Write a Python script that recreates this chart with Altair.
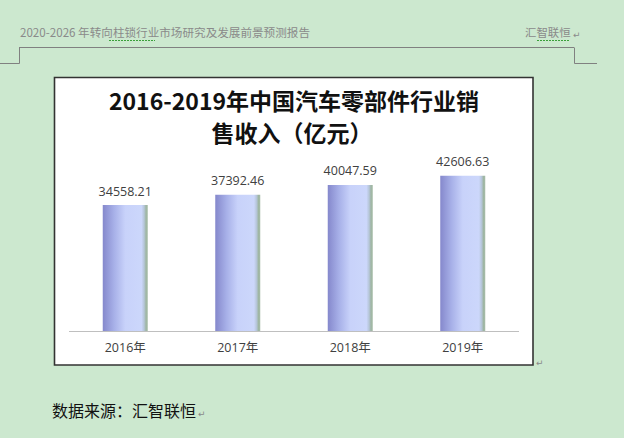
import altair as alt
import pandas as pd

# ---- data ----
years = ["2016年", "2017年", "2018年", "2019年"]
values = [34558.21, 37392.46, 40047.59, 42606.63]
value_labels = ["34558.21", "37392.46", "40047.59", "42606.63"]

title_lines = ["2016-2019年中国汽车零部件行业销", "售收入（亿元）"]
header_left = "2020-2026 年转向柱锁行业市场研究及发展前景预测报告"
header_right = "汇智联恒"
footer_text = "数据来源：汇智联恒"

df = pd.DataFrame({"year": years, "value": values, "label": value_labels})
one = pd.DataFrame({"d": [0]})

BG = "#cce8cf"
CJK = "Noto Sans CJK SC"
LAT = "Open Sans, Noto Sans CJK SC"

xscale = alt.Scale(range=[69, 519], paddingInner=0.6, paddingOuter=0.3)
yscale = alt.Scale(domain=[0, 50000], range=[331, 148.7], nice=False, zero=True)


def rule(x, x2, y, y2, color="#808080", width=1.0, dash=None):
    kw = dict(color=color, strokeWidth=width)
    if dash:
        kw["strokeDash"] = dash
    return alt.Chart(one).mark_rule(**kw).encode(
        x=alt.value(x), x2=alt.value(x2), y=alt.value(y), y2=alt.value(y2)
    )


def text(t, x, y, size, color, font=CJK, weight="normal", align="left"):
    return alt.Chart(one).mark_text(
        text=t, font=font, fontSize=size, color=color, fontWeight=weight,
        align=align, baseline="middle",
    ).encode(x=alt.value(x), y=alt.value(y))


# page decorations (Word header)
header = [
    text(header_left, 20, 34, 11.6, "#8a8a8a"),
    text(header_right, 525, 34, 11.4, "#8a8a8a"),
    text("↵", 573, 35, 9, "#8a8a8a", font="DejaVu Sans"),
    rule(109, 155, 40.5, 40.5, color="#3aa03a", dash=[2, 1]),
    rule(537, 570, 40.5, 40.5, color="#3aa03a", dash=[2, 1]),
    rule(19, 574, 47.5, 47.5),
    rule(19.5, 19.5, 47.5, 63.5),
    rule(574.5, 574.5, 47.5, 63.5),
    rule(0, 19.5, 63.5, 63.5),
    rule(574.5, 597, 63.5, 63.5),
]

box = alt.Chart(one).mark_rect(fill="white", stroke="#333333", strokeWidth=1.6).encode(
    x=alt.value(54.5), x2=alt.value(533), y=alt.value(77.5), y2=alt.value(365)
)

title1 = text(title_lines[0], 294, 103, 23, "#111111", weight="bold", align="center")
title2 = text(title_lines[1], 292, 135, 23, "#111111", weight="bold", align="center")

axis_line = rule(69, 519, 331.5, 331.5, color="#bfbfbf", width=1)

grad = alt.Gradient(
    gradient="linear", x1=0, x2=1, y1=0, y2=0,
    stops=[
        alt.GradientStop(offset=0.0, color="#8588cc"),
        alt.GradientStop(offset=0.25, color="#a7b0e8"),
        alt.GradientStop(offset=0.5, color="#c8d2fa"),
        alt.GradientStop(offset=0.86, color="#ccd7fb"),
        alt.GradientStop(offset=0.92, color="#b5c5d8"),
        alt.GradientStop(offset=0.96, color="#9fb6a4"),
        alt.GradientStop(offset=1.0, color="#a6bca8"),
    ],
)

base = alt.Chart(df)
bars = base.mark_bar(fill=grad).encode(
    x=alt.X("year:N", scale=xscale, axis=None, sort=years),
    y=alt.Y("value:Q", scale=yscale, axis=None),
)
vlabels = base.mark_text(font=LAT, fontSize=12.5, color="#404040", baseline="middle", dy=-13.5).encode(
    x=alt.X("year:N", scale=xscale, axis=None, sort=years),
    y=alt.Y("value:Q", scale=yscale, axis=None),
    text="label:N",
)
xlabels = base.mark_text(font=LAT, fontSize=12.5, color="#404040", baseline="middle").encode(
    x=alt.X("year:N", scale=xscale, axis=None, sort=years),
    y=alt.value(348),
    text="year:N",
)

footer = [
    text("↵", 536, 363, 9, "#8a8a8a", font="DejaVu Sans"),
    text(footer_text, 52, 412, 16, "#111111"),
    text("↵", 198, 414, 9, "#8a8a8a", font="DejaVu Sans"),
]

chart = alt.layer(
    *header, box, title1, title2, axis_line, bars, vlabels, xlabels, *footer
).properties(
    width=624, height=438,
    autosize=alt.AutoSizeParams(type="none"),
    padding={"left": 0, "top": 0, "right": 0, "bottom": 0},
    background=BG,
).configure_view(strokeWidth=0)

chart.save("out.html", embed_options={"renderer": "svg", "actions": False})
